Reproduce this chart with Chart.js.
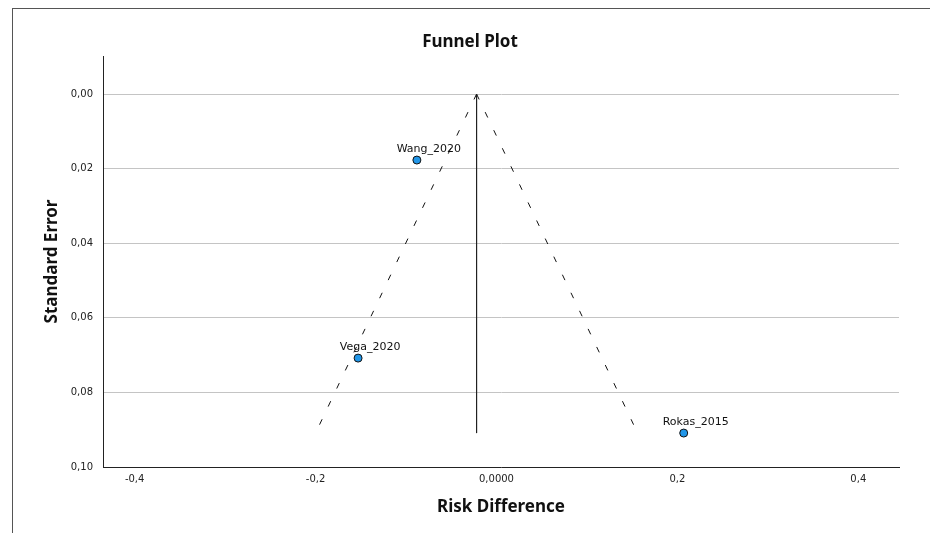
<!DOCTYPE html>
<html>
<head>
<meta charset="utf-8">
<script src="https://cdn.jsdelivr.net/npm/chart.js@4.4.0/dist/chart.umd.min.js"></script>
<style>
  html, body { margin: 0; padding: 0; background: #fff; }
  #wrap { position: relative; width: 930px; height: 533px; }
  #frame { position: absolute; left: 12px; top: 8px; right: 0; bottom: 0;
           border-top: 1px solid #555; border-left: 1px solid #555; pointer-events: none; }
</style>
</head>
<body>
<div id="wrap">
  <canvas id="funnel" width="930" height="533"></canvas>
  <div id="frame"></div>
</div>
<script>
// studies (risk difference vs standard error)
const studyNames = ['Wang_2020', 'Vega_2020', 'Rokas_2015'];
const riskDiff = [-0.088, -0.153, 0.207];
const stdError = [0.0177, 0.0708, 0.0909];

// pooled estimate line and 95% funnel limits
const pooledLine = [{x: -0.022, y: 0}, {x: -0.022, y: 0.0909}];
const leftLimit = [{x: -0.022, y: 0}, {x: -0.200, y: 0.0909}];
const rightLimit = [{x: -0.022, y: 0}, {x: 0.156, y: 0.0909}];

// axis ticks
const xTicks = [-0.4, -0.2, 0, 0.2, 0.4];
const xTickLabels = ['-0,4', '-0,2', '0,0000', '0,2', '0,4'];
const yTicks = [0, 0.02, 0.04, 0.06, 0.08, 0.10];
const yTickLabels = ['0,00', '0,02', '0,04', '0,06', '0,08', '0,10'];

const points = riskDiff.map((x, i) => ({x: x, y: stdError[i]}));

// title + labels next to each study point
const extras = {
    id: 'extras',
    afterDatasetsDraw(chart) {
        const meta = chart.getDatasetMeta(3);
        const ctx = chart.ctx;
        ctx.save();
        ctx.fillStyle = '#111';
        ctx.textAlign = 'center';
        ctx.textBaseline = 'middle';
        ctx.font = 'bold 17px "Noto Sans"';
        ctx.fillText('Funnel Plot', 470, 42);
        ctx.font = '11px "DejaVu Sans"';
        meta.data.forEach((el, i) => {
            ctx.fillText(studyNames[i], el.x + 12, el.y - 11);
        });
        ctx.restore();
    }
};

new Chart(document.getElementById('funnel'), {
    type: 'scatter',
    data: {
        datasets: [
            { data: pooledLine, showLine: true, borderColor: '#222', borderWidth: 1, pointRadius: 0 },
            { data: leftLimit, showLine: true, borderColor: '#111', borderWidth: 1, borderDash: [6, 14], pointRadius: 0 },
            { data: rightLimit, showLine: true, borderColor: '#111', borderWidth: 1, borderDash: [6, 14], pointRadius: 0 },
            { data: points, backgroundColor: '#2196e8', borderColor: '#111', borderWidth: 1, pointRadius: 4 }
        ]
    },
    plugins: [extras],
    options: {
        responsive: false,
        animation: false,
        layout: { padding: { top: 56, right: 31, bottom: 0, left: 0 } },
        plugins: {
            legend: { display: false },
            tooltip: { enabled: false },
            title: { display: false }
        },
        scales: {
            x: {
                type: 'linear',
                min: -0.435,
                max: 0.445,
                afterBuildTicks: s => { s.ticks = xTicks.map(v => ({value: v})); },
                afterFit: s => { s.height = 66; },
                grid: { display: false, drawTicks: false },
                border: { color: '#222', width: 1 },
                ticks: {
                    color: '#222',
                    padding: 6,
                    maxRotation: 0,
                    font: { family: 'DejaVu Sans', size: 10 },
                    callback: (v, i) => xTickLabels[i]
                },
                title: {
                    display: true,
                    text: 'Risk Difference',
                    color: '#111',
                    font: { family: 'Noto Sans', size: 17, weight: 'bold' },
                    padding: { bottom: 16 }
                }
            },
            y: {
                type: 'linear',
                reverse: true,
                min: -0.0102,
                max: 0.10,
                afterBuildTicks: s => { s.ticks = yTicks.map(v => ({value: v})); },
                afterFit: s => { s.width = 103; },
                grid: { color: '#c4c4c4', drawTicks: false, lineWidth: 1 },
                border: { color: '#222', width: 1 },
                ticks: {
                    color: '#222',
                    padding: 10,
                    font: { family: 'DejaVu Sans', size: 10 },
                    callback: (v, i) => yTickLabels[i]
                },
                title: {
                    display: true,
                    text: 'Standard Error',
                    color: '#111',
                    font: { family: 'Noto Sans', size: 17, weight: 'bold' },
                    padding: { top: 42 }
                }
            }
        }
    }
});
</script>
</body>
</html>
